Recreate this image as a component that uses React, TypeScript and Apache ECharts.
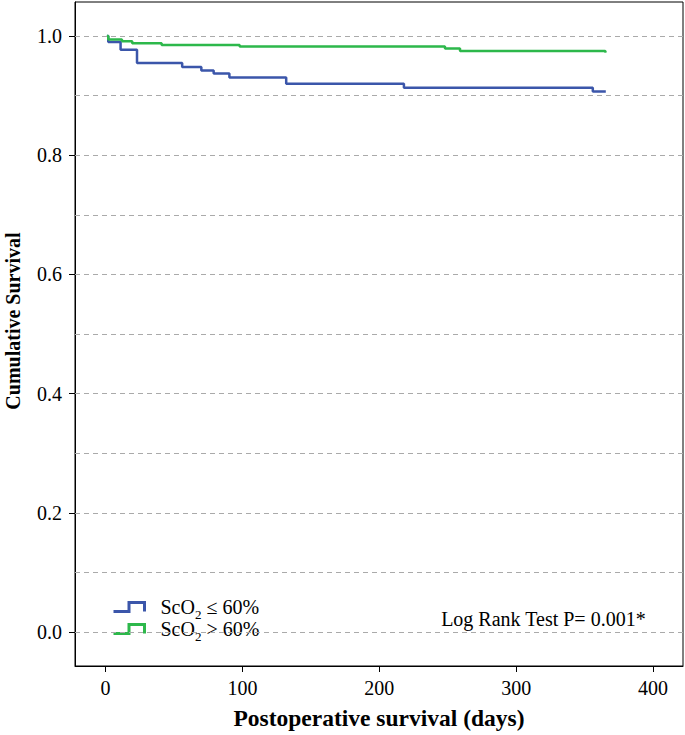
import React, { useEffect, useRef } from "react";
import * as echarts from "echarts";

const FONT = "'Liberation Serif', 'Times New Roman', serif";

const seriesNames = ["ScO2 ≤ 60%", "ScO2 > 60%"];
const seriesColors = ["#3B56AA", "#2DB84B"];

// [day, cumulative survival]
const lowScO2: [number, number][] = [
  [1, 1.0], [2, 0.99], [11, 0.977], [23, 0.9545], [56, 0.948], [70, 0.942],
  [79, 0.937], [90.5, 0.9305], [132, 0.92], [218, 0.913], [356, 0.907], [365.5, 0.907],
];
const highScO2: [number, number][] = [
  [1, 1.0], [2, 0.994], [12, 0.991], [19.5, 0.988], [41, 0.985], [98, 0.9825],
  [248, 0.979], [259, 0.975], [365, 0.975], [365.5, 0.972],
];

const xTicks = [0, 100, 200, 300, 400];
const yTicks = [0, 0.2, 0.4, 0.6, 0.8, 1.0];
const gridValues = [0, 0.1, 0.2, 0.3, 0.4, 0.5, 0.6, 0.7, 0.8, 0.9, 1.0];
const pValueText = "Log Rank Test P= 0.001*";

export default function App() {
  const ref = useRef<HTMLDivElement>(null);
  useEffect(() => {
    if (!ref.current) return;
    const chart = echarts.init(ref.current, null, { renderer: "svg" });
    const fmtName = (n: string) => n.replace("ScO2", "{n|ScO}{sub|2}{n|") + "}";
    chart.setOption({
      animation: false,
      backgroundColor: "#fff",
      textStyle: { fontFamily: FONT },
      grid: {
        left: 75, right: 2, top: 2, bottom: 69,
        outerBoundsMode: "none", containLabel: false,
        show: true, borderColor: "#000", borderWidth: 1, backgroundColor: "transparent",
      },
      xAxis: {
        type: "value", min: -22.3, max: 421.9,
        name: "Postoperative survival (days)", nameLocation: "middle", nameGap: 40,
        nameTextStyle: { fontFamily: FONT, fontSize: 23.5, fontWeight: "bold", color: "#000" },
        axisLine: { show: true, onZero: false, lineStyle: { color: "#000", width: 1 } },
        axisTick: { show: true, customValues: xTicks, length: 6, lineStyle: { color: "#000" } },
        axisLabel: { customValues: xTicks, margin: 12, fontFamily: FONT, fontSize: 20, color: "#000" },
        splitLine: { show: false },
      },
      yAxis: {
        type: "value", min: -0.057, max: 1.057,
        name: "Cumulative Survival", nameLocation: "middle", nameGap: 52,
        nameTextStyle: { fontFamily: FONT, fontSize: 20, fontWeight: "bold", color: "#000", padding: [0, 0, 0, 26] },
        axisLine: { show: true, onZero: false, lineStyle: { color: "#000", width: 1 } },
        axisTick: { show: true, customValues: yTicks, length: 6, lineStyle: { color: "#000" } },
        axisLabel: {
          customValues: yTicks, margin: 13, fontFamily: FONT, fontSize: 20, color: "#000",
          formatter: (v: number) => v.toFixed(1),
        },
        splitLine: { show: false },
      },
      legend: {
        data: seriesNames.map((n, i) => ({
          name: n,
          itemStyle: { color: "none", borderColor: seriesColors[i], borderWidth: 3 },
        })),
        orient: "vertical", left: 106, top: 591,
        itemWidth: 31, itemHeight: 9, itemGap: -3,
        icon: "path://M0,10L10,10L10,0L20,0L20,10",
        symbolKeepAspect: false,
        formatter: fmtName,
        textStyle: {
          fontFamily: FONT, fontSize: 20, color: "#000", padding: [0, 0, 0, 11], lineHeight: 22,
          rich: {
            n: { fontFamily: FONT, fontSize: 20, color: "#000", lineHeight: 22 },
            sub: { fontFamily: FONT, fontSize: 13, color: "#000", lineHeight: 22, verticalAlign: "bottom", padding: [0, 0, -3, 0] },
          },
        },
      },
      graphic: [
        {
          type: "text", right: 39, top: 609, z: 10,
          style: { text: pValueText, fontFamily: FONT, fontSize: 20, fill: "#000" },
        },
      ],
      series: [
        {
          name: "grid", type: "line", data: [], z: 1, silent: true,
          markLine: {
            silent: true, symbol: ["none", "none"], animation: false,
            label: { show: false },
            lineStyle: { color: "#AAAAAA", width: 1, type: [5, 4] },
            data: gridValues.map((v) => ({ yAxis: v })),
          },
        },
        {
          name: seriesNames[0], type: "line", step: "end", data: lowScO2, showSymbol: false, symbol: "none", z: 3,
          lineStyle: { color: seriesColors[0], width: 2.5 }, itemStyle: { color: seriesColors[0] },
        },
        {
          name: seriesNames[1], type: "line", step: "end", data: highScO2, showSymbol: false, symbol: "none", z: 3,
          lineStyle: { color: seriesColors[1], width: 2.5 }, itemStyle: { color: seriesColors[1] },
        },
      ],
    });
    return () => chart.dispose();
  }, []);
  return <div ref={ref} style={{ position: "fixed", left: 0, top: 0, width: 685, height: 735 }} />;
}
